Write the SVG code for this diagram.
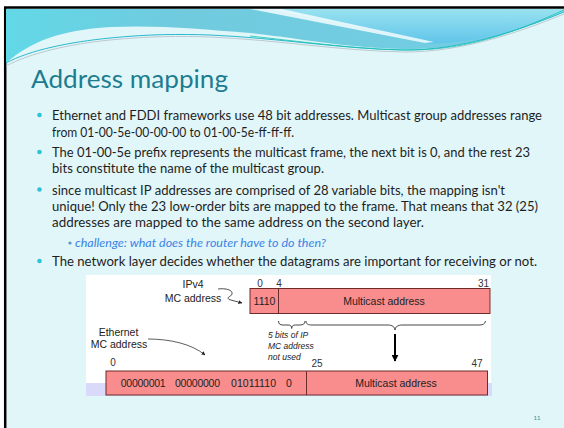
<svg xmlns="http://www.w3.org/2000/svg" width="564" height="428" viewBox="0 0 564 428">
  <defs>
    <linearGradient id="bandGrad" x1="0" y1="0" x2="1" y2="0">
      <stop offset="0" stop-color="#62D8E6"/>
      <stop offset="0.3" stop-color="#70CBDF"/>
      <stop offset="1" stop-color="#74CEE3"/>
    </linearGradient>
    <linearGradient id="rightGrad" x1="0" y1="0" x2="0" y2="1">
      <stop offset="0" stop-color="#98E2EF"/>
      <stop offset="1" stop-color="#60C4EA"/>
    </linearGradient>
    <marker id="arrowThin" viewBox="0 0 10 10" refX="9" refY="5" markerWidth="5" markerHeight="5" orient="auto">
      <path d="M0,0 L10,5 L0,10 Z" fill="#222"/>
    </marker>
    <marker id="arrowBold" viewBox="0 0 10 10" refX="9" refY="5" markerWidth="3.5" markerHeight="3.5" orient="auto">
      <path d="M0,0 L10,5 L0,10 Z" fill="#000"/>
    </marker>
    <style>
      .body { font-family: Lato, "Open Sans", sans-serif; font-size: 13px; fill: #1E1E1E; }
      .sub { font-family: Lato, "Open Sans", sans-serif; font-size: 11.5px; font-style: italic; fill: #3B82E6; }
      .dot { fill: #2DC3D6; }
      .diag { font-family: "Liberation Sans", Arial, sans-serif; font-size: 10.5px; fill: #222; }
      .num { font-family: "Liberation Sans", Arial, sans-serif; font-size: 10px; fill: #333; }
      .note { font-family: "Liberation Sans", Arial, sans-serif; font-size: 8.5px; font-style: italic; fill: #222; }
      .field { fill: #F98D8D; stroke: #6E2B2B; stroke-width: 1; }
      .brace { fill: none; stroke: #333; stroke-width: 0.9; }
    </style>
  </defs>

  <!-- slide background and frame -->
  <rect x="0" y="0" width="564" height="428" fill="#FFFFFF"/>
  <rect x="5" y="8" width="559" height="420" fill="#E1F6F9"/>
  <line x1="4" y1="7.5" x2="564" y2="7.5" stroke="#000" stroke-width="2.5"/>
  <line x1="5.2" y1="7" x2="5.2" y2="428" stroke="#000" stroke-width="2.5"/>

  <!-- header wave -->
  <g id="header">
    <path d="M6,9 H564 V12 C520,30 470,48 415,49 C350,49 300,38 250,33 C200,29 160,25 110,27 C60,30 30,42 6,63 Z" fill="url(#bandGrad)"/>
    <path d="M270,9 H564 V12 C530,26 490,42 430,44 Z" fill="url(#rightGrad)"/>
    <path d="M250,9 L282,9 L434,42 L425,43 Z" fill="#F2FCFE" opacity="0.85"/>
    <path d="M6,63 C30,50 70,42 110,38 C150,34 180,34 210,35 C280,38 340,49 405,50 C460,50 515,32 564,12" fill="none" stroke="#2BB8CC" stroke-width="1"/>
    <path d="M6,66 C30,53 70,44 110,40 C150,36 180,36 210,37 C280,40 340,51 405,52 C460,52 515,34 564,14" fill="none" stroke="#B8C4CC" stroke-width="0.9"/>
    <path d="M250,36 C320,44 370,50 410,50 C470,50 520,30 564,10" fill="none" stroke="#18C2B0" stroke-width="0.8"/>
  </g>

  <!-- title -->
  <text id="title" x="31" y="88" font-family="Lato, 'Open Sans', sans-serif" font-size="25" fill="#1C7C90" textLength="197" lengthAdjust="spacingAndGlyphs">Address mapping</text>

  <!-- bullet list -->
  <g id="bullets">
    <circle class="dot" cx="39.5" cy="115" r="2.3"/>
    <text class="body" x="52" y="120" textLength="490" lengthAdjust="spacingAndGlyphs">Ethernet and FDDI frameworks use 48 bit addresses. Multicast group addresses range</text>
    <text class="body" x="52" y="136.5" textLength="242" lengthAdjust="spacingAndGlyphs">from 01-00-5e-00-00-00 to 01-00-5e-ff-ff-ff.</text>

    <circle class="dot" cx="39.5" cy="152" r="2.3"/>
    <text class="body" x="52" y="157" textLength="478" lengthAdjust="spacingAndGlyphs">The 01-00-5e prefix represents the multicast frame, the next bit is 0, and the rest 23</text>
    <text class="body" x="52" y="173" textLength="272" lengthAdjust="spacingAndGlyphs">bits constitute the name of the multicast group.</text>

    <circle class="dot" cx="39.5" cy="189.5" r="2.3"/>
    <text class="body" x="52" y="194.5" textLength="453" lengthAdjust="spacingAndGlyphs">since multicast IP addresses are comprised of 28 variable bits, the mapping isn't</text>
    <text class="body" x="52" y="211" textLength="486" lengthAdjust="spacingAndGlyphs">unique! Only the 23 low-order bits are mapped to the frame. That means that 32 (25)</text>
    <text class="body" x="52" y="227" textLength="372" lengthAdjust="spacingAndGlyphs">addresses are mapped to the same address on the second layer.</text>

    <circle cx="70" cy="243" r="1.6" fill="#5A8FD0"/>
    <text class="sub" x="75" y="246.5" textLength="251" lengthAdjust="spacingAndGlyphs">challenge: what does the router have to do then?</text>

    <circle class="dot" cx="39.5" cy="261" r="2.3"/>
    <text class="body" x="52" y="266" textLength="485" lengthAdjust="spacingAndGlyphs">The network layer decides whether the datagrams are important for receiving or not.</text>
  </g>

  <!-- address mapping figure -->
  <g id="figure-bg">
    <rect x="86" y="275" width="405" height="108" fill="#FFFFFF"/>
    <rect x="86" y="383" width="406" height="13" fill="#D9D9FA"/>
  </g>

  <g id="ipv4-label">
    <text class="diag" x="193" y="288" text-anchor="middle">IPv4</text>
    <text class="diag" x="193" y="302" text-anchor="middle">MC address</text>
  </g>

  <g id="ipv4-address">
    <rect class="field" x="250" y="288.5" width="240" height="25"/>
    <line x1="278.5" y1="288.5" x2="278.5" y2="313.5" stroke="#6E2B2B" stroke-width="1"/>
    <text class="diag" x="264.5" y="305" text-anchor="middle">1110</text>
    <text class="diag" x="384" y="305" text-anchor="middle">Multicast address</text>
    <text class="num" x="260" y="286.5" text-anchor="middle">0</text>
    <text class="num" x="279" y="286.5" text-anchor="middle">4</text>
    <text class="num" x="489" y="286.5" text-anchor="end">31</text>
  </g>

  <g id="ethernet-label">
    <text class="diag" x="118.5" y="335.5" text-anchor="middle">Ethernet</text>
    <text class="diag" x="119" y="348" text-anchor="middle">MC address</text>
  </g>

  <g id="unused-note">
    <text class="note" x="268" y="338">5 bits of IP</text>
    <text class="note" x="268" y="349">MC address</text>
    <text class="note" x="268" y="359.5">not used</text>
  </g>

  <g id="ethernet-address">
    <rect class="field" x="106" y="371" width="381.5" height="24"/>
    <line x1="306.5" y1="371" x2="306.5" y2="395" stroke="#6E2B2B" stroke-width="1"/>
    <text class="diag" x="120.7" y="387" textLength="45" font-size="10.2">00000001</text>
    <text class="diag" x="175" y="387" textLength="45" font-size="10.2">00000000</text>
    <text class="diag" x="231" y="387" textLength="45" font-size="10.2">01011110</text>
    <text class="diag" x="286" y="387" font-size="10.2">0</text>
    <text class="diag" x="396" y="387" text-anchor="middle">Multicast address</text>
    <text class="num" x="113" y="365.5" text-anchor="middle">0</text>
    <text class="num" x="317" y="366.5" text-anchor="middle">25</text>
    <text class="num" x="477" y="366.5" text-anchor="middle">47</text>
  </g>

  <!-- connectors -->
  <g id="connectors">
    <path d="M218,289 C226,288 233,290 232,294 C231,297 226,297 229,299.5 L242,303" fill="none" stroke="#222" stroke-width="0.8" marker-end="url(#arrowThin)"/>
    <path d="M148,339 C170,339 192,344 205,355" fill="none" stroke="#333" stroke-width="0.8" marker-end="url(#arrowThin)"/>
    <path class="brace" d="M278.5,321 C278.5,324 280,325 283,325 L288,325 C290.5,325 291.7,326 291.7,328.5 C291.7,326 293,325 295.5,325 L300,325 C303,325 305,324 305,321"/>
    <path class="brace" d="M306,321 C306,324 308,325 312,325 L388,325 C392,325 395,327 395,330 C395,327 398,325 402,325 L479,325 C483,325 485,324 485.5,321"/>
    <line x1="395" y1="334" x2="395" y2="361" stroke="#000" stroke-width="2" marker-end="url(#arrowBold)"/>
  </g>

  <!-- slide number -->
  <text id="slide-number" x="537" y="420" font-family="Lato, sans-serif" font-size="6" fill="#2A8FA0" text-anchor="middle">11</text>
</svg>
